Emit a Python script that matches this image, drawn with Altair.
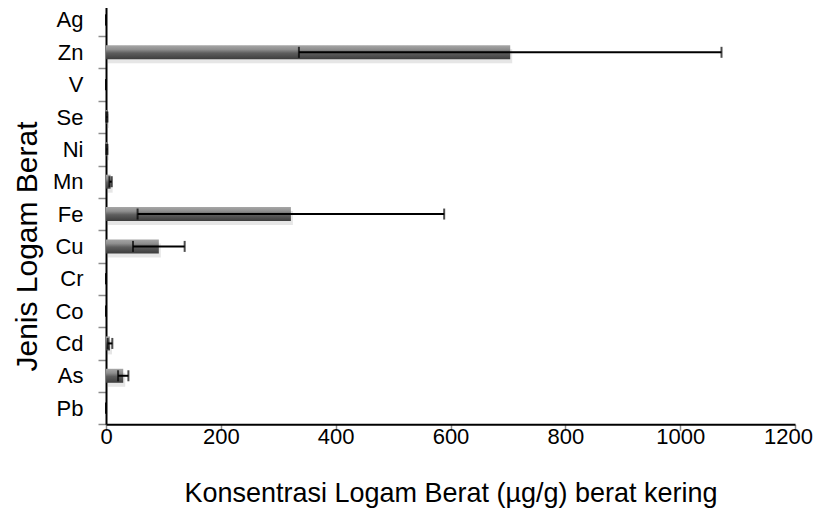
import altair as alt
import pandas as pd

metals = ["Ag", "Zn", "V", "Se", "Ni", "Mn", "Fe", "Cu", "Cr", "Co", "Cd", "As", "Pb"]
means = [0, 704, 0, 1.5, 1.5, 8, 322, 92, 0, 0, 7, 30, 0]
errs = [0, 368, 0, 1, 1, 2, 267, 45, 0, 0, 4, 9, 0]
x_ticks = [0, 200, 400, 600, 800, 1000, 1200]

df = pd.DataFrame({"metal": metals, "mean": means, "err": errs})
df["low"] = df["mean"] - df["err"]
df["high"] = df["mean"] + df["err"]

FONT = "Liberation Sans"

yscale = alt.Scale(domain=metals, range=[-7.2, 413.3], paddingInner=0, paddingOuter=0)
xscale = alt.Scale(domain=[0, 1200], nice=False)

y_enc = alt.Y(
    "metal:N",
    sort=metals,
    scale=yscale,
    axis=alt.Axis(
        title="Jenis Logam Berat",
        titleFont=FONT,
        titleFontSize=30,
        titleFontWeight="normal",
        titleColor="black",
        titleX=-79,
        titleY=235,
        titleBaseline="middle",
        labelFont=FONT,
        labelFontSize=22,
        labelColor="black",
        labelPadding=15,
        domainColor="black",
        domainWidth=2,
        tickColor="#8c8c8c",
        tickWidth=1.5,
        tickSize=8,
        tickBand="extent",
        grid=False,
    ),
)

x_enc = alt.X(
    "mean:Q",
    scale=xscale,
    axis=alt.Axis(
        title="Konsentrasi Logam Berat (µg/g) berat kering",
        values=x_ticks,
        format="d",
        titleFont=FONT,
        titleFontSize=27,
        titleFontWeight="normal",
        titleColor="black",
        titleY=77,
        titleBaseline="alphabetic",
        labelFont=FONT,
        labelFontSize=22,
        labelColor="black",
        labelPadding=-4,
        labelFlush=False,
        labelOverlap=False,
        labelOffset={"condition": {"test": "datum.value == 1200", "value": -7}, "value": 0},
        domainColor="black",
        domainWidth=2,
        tickColor="#8c8c8c",
        tickWidth=1.5,
        tickSize=6,
        grid=False,
    ),
)

base = alt.Chart(df)

shadow = base.mark_bar(size=14, color="#c8c8c8", opacity=0.45, yOffset=4, xOffset=2).encode(
    x=x_enc, y=y_enc
)

grad = alt.Gradient(
    gradient="linear",
    stops=[
        alt.GradientStop(color="#a6a6a6", offset=0),
        alt.GradientStop(color="#8e8e8e", offset=0.3),
        alt.GradientStop(color="#5e5e5e", offset=0.55),
        alt.GradientStop(color="#3c3c3c", offset=1),
    ],
    x1=0, x2=0, y1=0, y2=1,
)

bars = base.mark_bar(size=14, color=grad).encode(x=x_enc, y=y_enc)

rule = base.mark_rule(color="black", strokeWidth=2).encode(
    x="low:Q", x2="high:Q", y=alt.Y("metal:N", sort=metals)
)
cap_lo = base.mark_tick(color="black", thickness=2, size=11, orient="vertical").encode(
    x="low:Q", y=alt.Y("metal:N", sort=metals)
)
cap_hi = base.mark_tick(color="black", thickness=2, size=11, orient="vertical").encode(
    x="high:Q", y=alt.Y("metal:N", sort=metals)
)

chart = (
    alt.layer(shadow, bars, rule, cap_lo, cap_hi)
    .properties(
        width=689,
        height=413.3,
        autosize=alt.AutoSizeParams(type="none"),
        padding={"left": 98, "top": 3, "right": 20, "bottom": 84},
        background="white",
    )
    .configure_view(stroke=None)
)

chart.save("out.html", embed_options={"renderer": "svg", "actions": False})
